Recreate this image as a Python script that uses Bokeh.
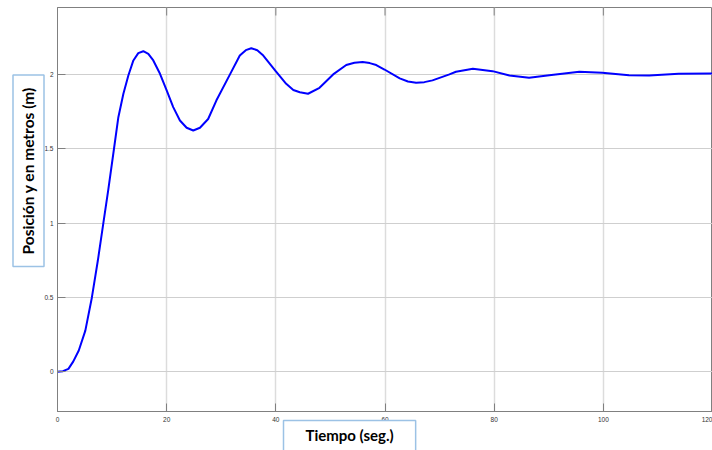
import math
from bokeh.plotting import figure
from bokeh.models import Range1d, FixedTicker, Title
from bokeh.embed import file_html
from bokeh.resources import INLINE

# data
tiempo = [0, 1.0, 2.0, 2.9, 3.9, 5.1, 6.3, 7.4, 8.4, 9.3, 10.35, 11.15, 12.07, 12.98, 13.9,
          14.8, 15.72, 16.64, 17.55, 18.78, 20.0, 21.2, 22.43, 23.66, 24.87, 26.1, 27.6,
          29.1, 31.6, 33.4, 34.5, 35.5, 36.6, 37.7, 39.9, 41.9, 43.2, 44.4,
          45.9, 48.0, 50.5, 52.9, 54.4, 55.9, 57.2, 58.4, 59.9, 62.7, 64.2, 65.7,
          67.2, 68.7, 71.8, 73.0, 76.1, 79.7, 82.8, 86.4, 90.1, 95.6, 99.8, 104.7,
          108.4, 113.8, 120]
posicion = [0, 0.004, 0.02, 0.07, 0.143, 0.277, 0.5, 0.75, 1.0, 1.224, 1.5, 1.712, 1.87, 1.993, 2.094,
            2.143, 2.156, 2.138, 2.094, 2.004, 1.892, 1.78, 1.69, 1.641, 1.623, 1.641, 1.70,
            1.824, 2.0, 2.127, 2.163, 2.176, 2.163, 2.127, 2.026, 1.937, 1.895, 1.88,
            1.87, 1.91, 2.0, 2.063, 2.079, 2.083, 2.076, 2.063, 2.033, 1.973, 1.952, 1.944,
            1.948, 1.96, 2.0, 2.018, 2.038, 2.022, 1.993, 1.977, 1.995, 2.018, 2.011, 1.995,
            1.993, 2.004, 2.007]

x_ticks = [0, 20, 40, 60, 80, 100, 120]
y_ticks = [0, 0.5, 1, 1.5, 2]
x_label = "Tiempo (seg.)"
y_label = "Posición y en metros (m)"

x_min, x_max = 0, 120
y_min, y_max = -0.267, 2.45

p = figure(width=712, height=450, output_backend="svg", toolbar_location=None,
           x_range=Range1d(x_min, x_max), y_range=Range1d(y_min, y_max),
           min_border_left=57, min_border_right=0, min_border_top=7, min_border_bottom=39,
           background_fill_color="white", border_fill_color="white")

p.outline_line_color = "#808080"
p.outline_line_width = 1

for ax in (p.xaxis[0], p.yaxis[0]):
    ax.axis_line_color = "#808080"
    ax.major_tick_line_color = "#808080"
    ax.major_tick_in = 8
    ax.major_tick_out = 0
    ax.minor_tick_line_color = None
    ax.major_label_text_font = "Liberation Sans"
    ax.major_label_text_font_size = "6.5px"
    ax.major_label_text_color = "#333333"

p.xaxis[0].ticker = FixedTicker(ticks=x_ticks)
p.yaxis[0].ticker = FixedTicker(ticks=y_ticks)
p.xaxis[0].major_label_standoff = 5
p.yaxis[0].major_label_standoff = 4

p.xgrid.ticker = FixedTicker(ticks=x_ticks)
p.ygrid.ticker = FixedTicker(ticks=y_ticks)
p.xgrid.grid_line_color = "#dcdcdc"
p.ygrid.grid_line_color = "#cfcfcf"
p.xgrid.grid_line_width = 1.5

# inward tick marks on the top edge of the box (half of each dash is clipped away)
p.scatter(x_ticks, [y_max] * len(x_ticks), marker="dash", size=16,
          angle=math.pi / 2, line_color="#808080", line_width=1)

p.line(tiempo, posicion, line_color="#0000ff", line_width=2)

t_y = Title(text=y_label, align="left", offset=145, standoff=-5,
            text_font="Lato", text_font_style="bold", text_font_size="15.5px",
            text_color="black", background_fill_color="white",
            border_line_color="#9cc2e5", border_line_width=1.5,
            padding=dict(left=12, right=12, top=6, bottom=7))
p.add_layout(t_y, "left")

t_x = Title(text=x_label, align="left", offset=226, standoff=-12,
            text_font="Lato", text_font_style="bold", text_font_size="15px",
            text_color="black", background_fill_color="white",
            border_line_color="#9cc2e5", border_line_width=1.5,
            padding=dict(left=22, right=22, top=5, bottom=12))
p.add_layout(t_x, "below")

open("out.html", "w").write(file_html(p, INLINE))
